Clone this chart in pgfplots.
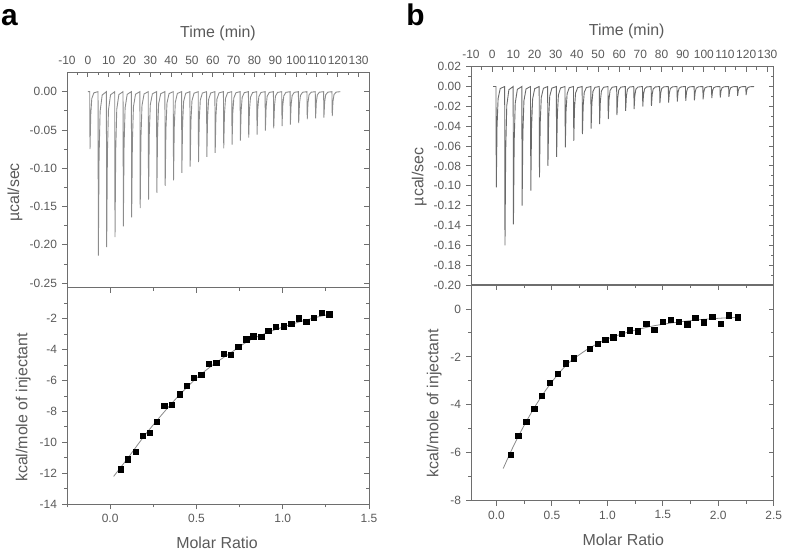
\documentclass[border=0pt]{standalone}
\usepackage{fontspec}
\setmainfont{Liberation Sans}
\usepackage{pgfplots}
\pgfplotsset{compat=1.18}
\definecolor{tickgray}{HTML}{5A5A5A}
\definecolor{axgray}{HTML}{6E6E6E}
\definecolor{tracea}{HTML}{8C8C8C}
\definecolor{traceb}{HTML}{6A6A6A}
\definecolor{fitgray}{HTML}{8A8A8A}
\pgfplotsset{
  itc/.style={
    scale only axis,
    axis line style={axgray, line width=1bp},
    tick style={axgray, line width=0.9bp},
    tick align=center,
    major tick length=5bp,
    minor tick length=3bp,
    every major x tick/.append style={yshift=-2.5bp},
    every minor x tick/.append style={yshift=-1.5bp},
    every major y tick/.append style={xshift=-2.5bp},
    every minor y tick/.append style={xshift=-1.5bp},
    tick label style={font=\fontsize{12}{14}\selectfont, text=tickgray},
    /pgf/number format/assume math mode=true,
    yticklabel style={xshift=-4bp},
    clip=false,
  }
}
\begin{document}
\begin{tikzpicture}
\useasboundingbox (0,0) rectangle (787bp,552bp);

% ---------------- Panel a, top: raw heat ----------------
\begin{axis}[itc,
  at={(67bp,264.3bp)}, anchor=south west,
  width=302bp, height=215.4bp,
  xmin=-10, xmax=135, ymin=-0.256, ymax=0.0253,
  xtick={-10,0,10,20,30,40,50,60,70,80,90,100,110,120,130},
  minor xtick={-5,5,15,25,35,45,55,65,75,85,95,105,115,125,135},
  xtick pos=right, xticklabel pos=right,
  xticklabel style={yshift=2bp},
  ytick={0,-0.05,-0.1,-0.15,-0.2,-0.25},
  minor ytick={-0.025,-0.075,-0.125,-0.175,-0.225},
  yticklabel style={/pgf/number format/.cd, fixed, fixed zerofill, precision=2},
]
\addplot[tracea, line width=0.9bp] coordinates {
(0,0)
(0.9,0)(1.05,-0.075)(1.4,-0.030)(1.9,-0.009)(2.9,-0.0015)
(4.9,0)(5.05,-0.214)(5.4,-0.0856)(5.9,-0.0257)(6.9,-0.0043)
(8.9,0)(9.05,-0.203)(9.4,-0.0812)(9.9,-0.0244)(10.9,-0.0041)
(12.9,0)(13.05,-0.190)(13.4,-0.076)(13.9,-0.0228)(14.9,-0.0038)
(16.9,0)(17.05,-0.176)(17.4,-0.0704)(17.9,-0.0211)(18.9,-0.0035)
(20.9,0)(21.05,-0.164)(21.4,-0.0656)(21.9,-0.0197)(22.9,-0.0033)
(25.0,0)(25.15,-0.152)(25.5,-0.0608)(26.0,-0.0182)(27.0,-0.0030)
(29.0,0)(29.15,-0.141)(29.5,-0.0564)(30.0,-0.0169)(31.0,-0.0028)
(33.0,0)(33.15,-0.132)(33.5,-0.0528)(34.0,-0.0158)(35.0,-0.0026)
(37.0,0)(37.15,-0.123)(37.5,-0.0492)(38.0,-0.0148)(39.0,-0.0025)
(41.0,0)(41.15,-0.116)(41.5,-0.0464)(42.0,-0.0139)(43.0,-0.0023)
(45.0,0)(45.15,-0.106)(45.5,-0.0424)(46.0,-0.0127)(47.0,-0.0021)
(49.0,0)(49.15,-0.098)(49.5,-0.0392)(50.0,-0.0118)(51.0,-0.0020)
(53.0,0)(53.15,-0.092)(53.5,-0.0368)(54.0,-0.0110)(55.0,-0.0018)
(57.0,0)(57.15,-0.085)(57.5,-0.034)(58.0,-0.0102)(59.0,-0.0017)
(61.0,0)(61.15,-0.080)(61.5,-0.032)(62.0,-0.0096)(63.0,-0.0016)
(65.1,0)(65.25,-0.074)(65.6,-0.0296)(66.1,-0.0089)(67.1,-0.0015)
(69.1,0)(69.25,-0.069)(69.6,-0.0276)(70.1,-0.0083)(71.1,-0.0014)
(73.1,0)(73.25,-0.064)(73.6,-0.0256)(74.1,-0.0077)(75.1,-0.0013)
(77.1,0)(77.25,-0.060)(77.6,-0.024)(78.1,-0.0072)(79.1,-0.0012)
(81.1,0)(81.25,-0.056)(81.6,-0.0224)(82.1,-0.0067)(83.1,-0.0011)
(85.1,0)(85.25,-0.051)(85.6,-0.0204)(86.1,-0.0061)(87.1,-0.0010)
(89.1,0)(89.25,-0.048)(89.6,-0.0192)(90.1,-0.0058)(91.1,-0.0010)
(93.1,0)(93.25,-0.045)(93.6,-0.018)(94.1,-0.0054)(95.1,-0.0009)
(97.1,0)(97.25,-0.043)(97.6,-0.0172)(98.1,-0.0052)(99.1,-0.0009)
(101.1,0)(101.25,-0.041)(101.6,-0.0164)(102.1,-0.0049)(103.1,-0.0008)
(105.2,0)(105.35,-0.036)(105.7,-0.0144)(106.2,-0.0043)(107.2,-0.0007)
(109.2,0)(109.35,-0.035)(109.7,-0.014)(110.2,-0.0042)(111.2,-0.0007)
(113.2,0)(113.35,-0.034)(113.7,-0.0136)(114.2,-0.0041)(115.2,-0.0007)
(117.2,0)(117.35,-0.032)(117.7,-0.0128)(118.2,-0.0038)(119.2,-0.0006)
(121.2,0)
};
\end{axis}

% ---------------- Panel a, bottom: integrated heats ----------------
\begin{axis}[itc,
  at={(67bp,47.7bp)}, anchor=south west,
  width=302bp, height=216.6bp,
  xmin=-0.25, xmax=1.5, ymin=-14, ymax=0,
  xtick={0,0.5,1,1.5},
  minor xtick={-0.25,0.25,0.75,1.25},
  xticklabel style={yshift=-4bp, /pgf/number format/.cd, fixed, fixed zerofill, precision=1},
  ytick={-2,-4,-6,-8,-10,-12,-14},
  minor ytick={-1,-3,-5,-7,-9,-11,-13},
]
\addplot[fitgray, line width=0.8bp, smooth] coordinates {
(0.02,-12.2)(0.1,-11.05)(0.2,-9.55)(0.3,-8.2)(0.4,-6.95)(0.5,-5.85)(0.6,-4.95)
(0.7,-4.2)(0.8,-3.45)(0.9,-2.95)(1.0,-2.55)(1.1,-2.2)(1.2,-1.9)(1.27,-1.72)
};
\addplot[only marks, mark=square*, mark size=2.7bp, black] coordinates {
(0.062,-11.74)(0.102,-11.08)(0.147,-10.60)(0.189,-9.57)(0.230,-9.38)
(0.270,-8.65)(0.313,-7.61)(0.357,-7.55)(0.402,-6.88)(0.442,-6.32)
(0.485,-5.81)(0.527,-5.61)(0.571,-4.92)(0.614,-4.86)(0.658,-4.26)
(0.699,-4.32)(0.743,-3.81)(0.788,-3.33)(0.830,-3.14)(0.875,-3.18)
(0.917,-2.77)(0.959,-2.52)(1.004,-2.49)(1.048,-2.34)(1.091,-1.96)
(1.135,-2.19)(1.181,-1.94)(1.226,-1.63)(1.270,-1.70)
};
\end{axis}

% ---------------- Panel b, top: raw heat ----------------
\begin{axis}[itc,
  at={(471bp,267bp)}, anchor=south west,
  width=302.7bp, height=218.3bp,
  xmin=-10, xmax=133, ymin=-0.2, ymax=0.02,
  xtick={-10,0,10,20,30,40,50,60,70,80,90,100,110,120,130},
  minor xtick={-5,5,15,25,35,45,55,65,75,85,95,105,115,125},
  xtick pos=right, xticklabel pos=right,
  xticklabel style={yshift=2bp},
  ytick={0.02,0,-0.02,-0.04,-0.06,-0.08,-0.1,-0.12,-0.14,-0.16,-0.18,-0.2},
  minor ytick={0.01,-0.01,-0.03,-0.05,-0.07,-0.09,-0.11,-0.13,-0.15,-0.17,-0.19},
  yticklabel style={/pgf/number format/.cd, fixed, fixed zerofill, precision=2},
]
\addplot[traceb, line width=0.9bp] coordinates {
(0.5,0)
(1.8,0)(1.95,-0.1017)(2.3,-0.0407)(2.8,-0.0122)(3.8,-0.0020)
(5.9,0)(6.05,-0.160)(6.4,-0.064)(6.9,-0.0192)(7.9,-0.0032)
(9.9,0)(10.05,-0.139)(10.4,-0.0556)(10.9,-0.0167)(11.9,-0.0028)
(14.0,0)(14.15,-0.120)(14.5,-0.048)(15.0,-0.0144)(16.0,-0.0024)
(18.1,0)(18.25,-0.105)(18.6,-0.042)(19.1,-0.0126)(20.1,-0.0021)
(22.2,0)(22.35,-0.0916)(22.7,-0.0366)(23.2,-0.0110)(24.2,-0.0018)
(26.2,0)(26.35,-0.0799)(26.7,-0.032)(27.2,-0.0096)(28.2,-0.0016)
(30.3,0)(30.45,-0.0708)(30.8,-0.0283)(31.3,-0.0085)(32.3,-0.0014)
(34.4,0)(34.55,-0.0614)(34.9,-0.0246)(35.4,-0.0074)(36.4,-0.0012)
(38.4,0)(38.55,-0.0547)(38.9,-0.0219)(39.4,-0.0066)(40.4,-0.0011)
(42.5,0)(42.65,-0.048)(43.0,-0.0192)(43.5,-0.0058)(44.5,-0.0010)
(46.6,0)(46.75,-0.0423)(47.1,-0.0169)(47.6,-0.0051)(48.6,-0.0008)
(50.6,0)(50.75,-0.0379)(51.1,-0.0152)(51.6,-0.0045)(52.6,-0.0008)
(54.7,0)(54.85,-0.0329)(55.2,-0.0132)(55.7,-0.0039)(56.7,-0.0007)
(58.8,0)(58.95,-0.0289)(59.3,-0.0116)(59.8,-0.0035)(60.8,-0.0006)
(62.9,0)(63.05,-0.0245)(63.4,-0.0098)(63.9,-0.0029)(64.9,-0.0005)
(66.9,0)(67.05,-0.0228)(67.4,-0.0091)(67.9,-0.0027)(68.9,-0.0005)
(71.0,0)(71.15,-0.0201)(71.5,-0.008)(72.0,-0.0024)(73.0,-0.0004)
(75.1,0)(75.25,-0.0195)(75.6,-0.0078)(76.1,-0.0023)(77.1,-0.0004)
(79.1,0)(79.25,-0.0168)(79.6,-0.0067)(80.1,-0.0020)(81.1,-0.0003)
(83.2,0)(83.35,-0.0161)(83.7,-0.0064)(84.2,-0.0019)(85.2,-0.0003)
(87.3,0)(87.45,-0.0151)(87.8,-0.0060)(88.3,-0.0018)(89.3,-0.0003)
(91.3,0)(91.45,-0.0144)(91.8,-0.0058)(92.3,-0.0017)(93.3,-0.0003)
(95.4,0)(95.55,-0.0138)(95.9,-0.0055)(96.4,-0.0017)(97.4,-0.0003)
(99.5,0)(99.65,-0.0128)(100.0,-0.0051)(100.5,-0.0015)(101.5,-0.0003)
(103.6,0)(103.75,-0.0117)(104.1,-0.0047)(104.6,-0.0014)(105.6,-0.0002)
(107.6,0)(107.75,-0.0111)(108.1,-0.0044)(108.6,-0.0013)(109.6,-0.0002)
(111.7,0)(111.85,-0.0104)(112.2,-0.0042)(112.7,-0.0012)(113.7,-0.0002)
(115.8,0)(115.95,-0.0094)(116.3,-0.0038)(116.8,-0.0011)(117.8,-0.0002)
(119.8,0)(119.95,-0.0087)(120.3,-0.0035)(120.8,-0.0010)(121.8,-0.0002)
(123.7,0)
};
\end{axis}

% ---------------- Panel b, bottom: integrated heats ----------------
\begin{axis}[itc,
  at={(471bp,51.3bp)}, anchor=south west,
  width=302.7bp, height=215.7bp,
  xmin=-0.23, xmax=2.5, ymin=-8, ymax=1,
  xtick={0,0.5,1,1.5,2,2.5},
  minor xtick={0.25,0.75,1.25,1.75,2.25},
  xticklabel style={yshift=-4bp, /pgf/number format/.cd, fixed, fixed zerofill, precision=1},
  ytick={0,-2,-4,-6,-8},
  minor ytick={1,-1,-3,-5,-7},
]
\addplot[fitgray, line width=0.8bp, smooth] coordinates {
(0.06,-6.66)(0.15,-5.75)(0.25,-4.85)(0.35,-4.05)(0.45,-3.35)(0.55,-2.75)
(0.65,-2.25)(0.75,-1.9)(0.85,-1.6)(1.0,-1.25)(1.2,-0.95)(1.4,-0.72)
(1.6,-0.57)(1.8,-0.46)(2.0,-0.39)(2.17,-0.35)
};
\addplot[only marks, mark=square*, mark size=2.7bp, black] coordinates {
(0.130,-6.07)(0.196,-5.28)(0.268,-4.70)(0.340,-4.15)(0.410,-3.62)
(0.482,-3.08)(0.551,-2.70)(0.623,-2.27)(0.696,-2.05)(0.840,-1.65)
(0.913,-1.44)(0.982,-1.28)(1.054,-1.18)(1.127,-1.03)(1.199,-0.89)
(1.274,-0.92)(1.349,-0.62)(1.422,-0.86)(1.497,-0.54)(1.569,-0.46)
(1.645,-0.53)(1.720,-0.64)(1.792,-0.36)(1.867,-0.55)(1.946,-0.31)
(2.021,-0.62)(2.096,-0.26)(2.175,-0.35)
};
\end{axis}

% ---------------- labels ----------------
\begin{scope}[every node/.style={text=tickgray, font=\fontsize{16}{18}\selectfont}]
\node at (218bp,519bp) {Time (min)};
\node at (626.7bp,520.3bp) {Time (min)};
\node[rotate=90] at (15bp,359.5bp) {µcal/sec};
\node[rotate=90] at (23.3bp,144.5bp) {kcal/mole of injectant};
\node[rotate=90] at (419.3bp,375.3bp) {µcal/sec};
\node[rotate=90] at (434.3bp,148.7bp) {kcal/mole of injectant};
\node at (217bp,8.7bp) {Molar Ratio};
\node at (623.3bp,12bp) {Molar Ratio};
\end{scope}
\node[anchor=base, font=\fontsize{30}{32}\selectfont\bfseries] at (9.5bp,526bp) {a};
\node[anchor=base, font=\fontsize{30}{32}\selectfont\bfseries] at (415.5bp,526bp) {b};
\end{tikzpicture}
\end{document}
